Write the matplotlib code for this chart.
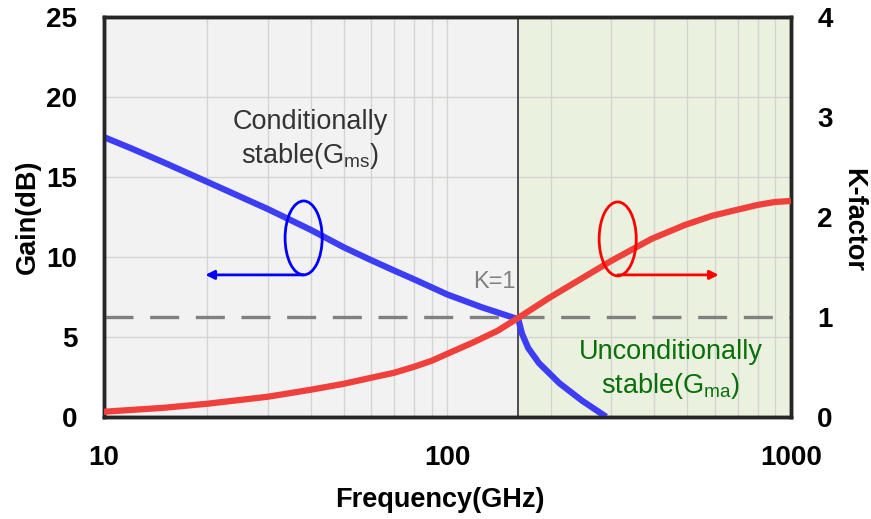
import matplotlib
matplotlib.use("Agg")
import matplotlib.pyplot as plt
from matplotlib.patches import Ellipse
from matplotlib.ticker import NullFormatter

# data
gain_freq = [10, 12, 15, 20, 30, 40, 50, 60, 70, 80, 90, 100, 126, 161,
             165, 172, 185, 212, 247, 290]
gain_db = [17.5, 16.8, 15.9, 14.7, 13.0, 11.7, 10.6, 9.8, 9.15, 8.6, 8.1, 7.65, 6.85, 6.1,
           5.2, 4.3, 3.35, 2.1, 1.0, 0.0]

k_freq = [10, 15, 20, 30, 40, 50, 60, 70, 80, 90, 100, 120, 140, 161,
          198, 245, 300, 393, 492, 588, 694, 800, 900, 1000]
k_val = [0.05, 0.09, 0.13, 0.20, 0.27, 0.33, 0.39, 0.44, 0.50, 0.56, 0.63, 0.75, 0.86, 0.99,
         1.19, 1.38, 1.56, 1.78, 1.92, 2.01, 2.07, 2.12, 2.15, 2.16]

k1_freq = 161  # where K crosses 1
x_ticks = [10, 100, 1000]
x_ticklabels = ['10', '100', '1000']
gain_ticks = [0, 5, 10, 15, 20, 25]
k_ticks = [0, 1, 2, 3, 4]

plt.rcParams['font.family'] = ['Liberation Sans', 'DejaVu Sans']
plt.rcParams['mathtext.fontset'] = 'custom'
plt.rcParams['mathtext.rm'] = 'Liberation Sans'
plt.rcParams['axes.axisbelow'] = True

tick_font = dict(family=['Liberation Sans', 'DejaVu Sans'], weight='bold', size=20)
label_font = dict(family=['Liberation Sans', 'DejaVu Sans'], weight='bold', size=19.5)

fig = plt.figure(figsize=(8.71, 5.19), dpi=100)
ax = fig.add_axes([0.119, 0.197, 0.789, 0.770])
ax.set_xscale('log')
ax.set_xlim(10, 1000)
ax.set_ylim(0, 25)

# shaded regions
ax.axvspan(10, k1_freq, color='#f2f2f2', zorder=0.2, lw=0)
ax.axvspan(k1_freq, 1000, color='#ebf1df', zorder=0.2, lw=0)
ax.grid(True, which='both', axis='x', color='#d3d6cf', lw=1)
ax.grid(True, which='major', axis='y', color='#d3d6cf', lw=1)
ax.axvline(k1_freq, color='#404040', lw=1.3, zorder=1)

ax.plot(gain_freq, gain_db, color='#3d3df5', lw=4.5, zorder=3,
        solid_capstyle='butt', solid_joinstyle='round')

ax.set_xticks(x_ticks)
ax.set_xticklabels(x_ticklabels)
ax.xaxis.set_minor_formatter(NullFormatter())
ax.set_yticks(gain_ticks)
ax.tick_params(which='both', length=0)
ax.tick_params(axis='y', pad=19)
ax.tick_params(axis='x', pad=20)
for lbl in ax.get_xticklabels() + ax.get_yticklabels():
    lbl.set_fontproperties(tick_font)

ax2 = ax.twinx()
ax2.set_ylim(0, 4)
ax2.axhline(1, color='#808080', lw=2.4, linestyle=(0, (8.7, 5)), zorder=1)
ax2.plot(k_freq, k_val, color='#f0403c', lw=4.5, zorder=3,
         solid_capstyle='butt', solid_joinstyle='round')
ax2.set_yticks(k_ticks)
ax2.tick_params(length=0, pad=19)
for lbl in ax2.get_yticklabels():
    lbl.set_fontproperties(tick_font)

for a in (ax, ax2):
    for sp in a.spines.values():
        sp.set_linewidth(2.5)
        sp.set_color('#262626')

# annotations
ax2.add_patch(Ellipse((0.291, 0.4475), 0.054, 0.185, transform=ax.transAxes,
                      fill=False, ec='#0000ff', lw=2, zorder=4))
ax2.annotate('', xy=(0.148, 0.355), xytext=(0.291, 0.355), xycoords='axes fraction',
             arrowprops=dict(arrowstyle='-|>', color='#0000ff', lw=2, mutation_scale=13,
                             shrinkA=0, shrinkB=0))
ax2.add_patch(Ellipse((0.748, 0.445), 0.054, 0.185, transform=ax.transAxes,
                      fill=False, ec='#ff0000', lw=2, zorder=4))
ax2.annotate('', xy=(0.895, 0.355), xytext=(0.748, 0.355), xycoords='axes fraction',
             arrowprops=dict(arrowstyle='-|>', color='#ff0000', lw=2, mutation_scale=13,
                             shrinkA=0, shrinkB=0))

ax2.text(0.30, 0.6925, 'Conditionally\nstable(G$_\\mathrm{ms}$)', transform=ax.transAxes,
         ha='center', va='center', fontsize=19.5, color='#333333', linespacing=1.3)
ax2.text(0.825, 0.1175, 'Unconditionally\nstable(G$_\\mathrm{ma}$)', transform=ax.transAxes,
         ha='center', va='center', fontsize=19.5, color='#0a6e0a', linespacing=1.3)
ax2.text(0.599, 0.3375, 'K=1', transform=ax.transAxes, ha='right', va='center',
         fontsize=17, color='#808080')

fig.text(28 / 871, 1 - 217 / 519, 'Gain(dB)', rotation=90, ha='center', va='center', **label_font)
fig.text(853 / 871, 1 - 220 / 519, 'K-factor', rotation=270, ha='center', va='center', **label_font)
fig.text(440 / 871, 1 - 500 / 519, 'Frequency(GHz)', ha='center', va='center', **label_font)

fig.savefig('out.png', dpi=100)
